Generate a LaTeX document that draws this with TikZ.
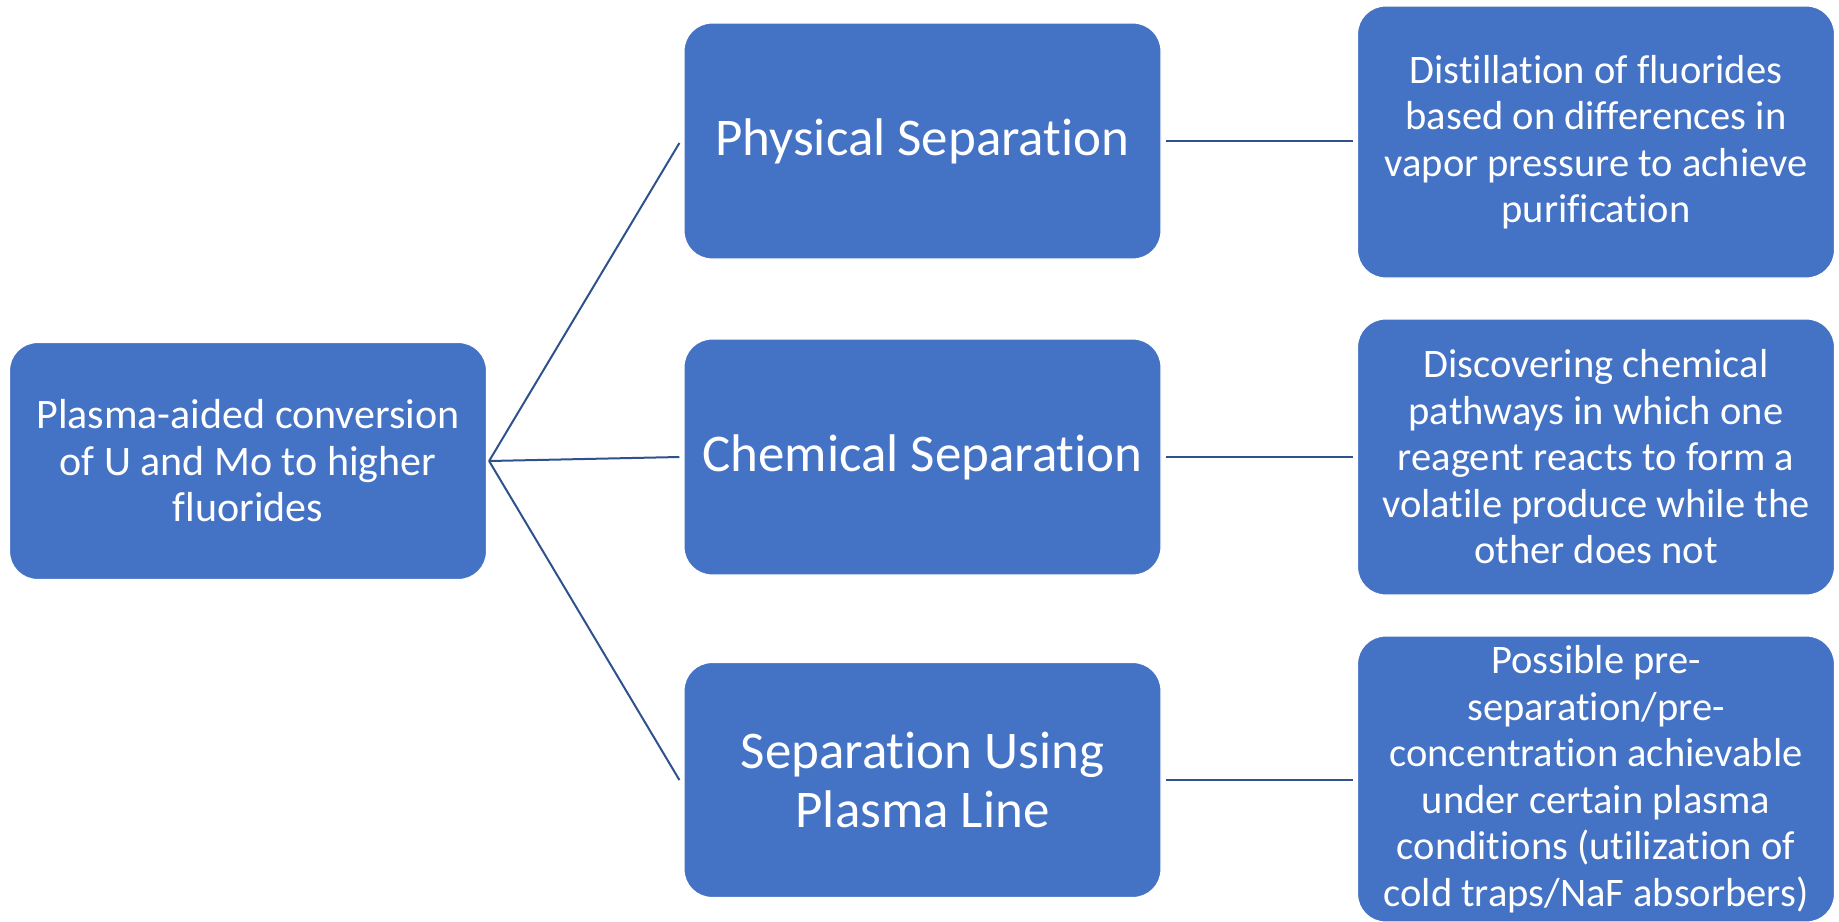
\documentclass[tikz,border=0pt]{standalone}
\usepackage{fontspec}
\setmainfont{Carlito}[Ligatures=NoCommon]
\definecolor{boxblue}{HTML}{4472C4}
\definecolor{linkblue}{HTML}{2F528F}
\tikzset{
  card/.style={draw=white, line width=1.2pt, fill=boxblue, rounded corners=28pt,
    text=white, align=center, inner sep=0pt, minimum width=477pt},
  roottxt/.style={font=\fontsize{42}{46.5}\selectfont},
  smalltxt/.style={font=\fontsize{40.5}{46.5}\selectfont},
  bigtxt/.style={font=\fontsize{53}{58.6}\selectfont},
  link/.style={draw=linkblue, line width=2pt}
}
\begin{document}
\begin{tikzpicture}[x=1pt,y=-1pt]
\useasboundingbox (0,0) rectangle (1839,921);
\node[card,roottxt,minimum height=237pt] (root) at (248,461) {Plasma-aided conversion\\of U and Mo to higher\\fluorides};
\node[card,bigtxt,minimum height=236pt] (phys) at (922.5,141) {Physical Separation};
\node[card,bigtxt,minimum height=236pt] (chem) at (922.5,457) {Chemical Separation};
\node[card,bigtxt,minimum height=235pt] (plas) at (922.5,780) {Separation Using\\Plasma Line};
\node[card,smalltxt,minimum height=272pt] (d1) at (1596,142) {Distillation of fluorides\\based on differences in\\vapor pressure to achieve\\purification};
\node[card,smalltxt,minimum height=276pt] (d2) at (1596,457) {Discovering chemical\\pathways in which one\\reagent reacts to form a\\volatile produce while the\\other does not};
\node[card,smalltxt,minimum height=286pt] (d3) at (1596,779) {Possible pre-\\separation/pre-\\concentration achievable\\under certain plasma\\conditions (utilization of\\cold traps/NaF absorbers)};
\draw[link] ([xshift=2pt]root.east) -- ([xshift=-4pt,yshift=-2pt]phys.west);
\draw[link] ([xshift=2pt]root.east) -- ([xshift=-4pt]chem.west);
\draw[link] ([xshift=2pt]root.east) -- ([xshift=-4pt]plas.west);
\draw[link] ([xshift=4pt]phys.east) -- ([xshift=-4pt]phys.east -| d1.west);
\draw[link] ([xshift=4pt]chem.east) -- ([xshift=-4pt]chem.east -| d2.west);
\draw[link] ([xshift=4pt]plas.east) -- ([xshift=-4pt]plas.east -| d3.west);
\end{tikzpicture}
\end{document}
